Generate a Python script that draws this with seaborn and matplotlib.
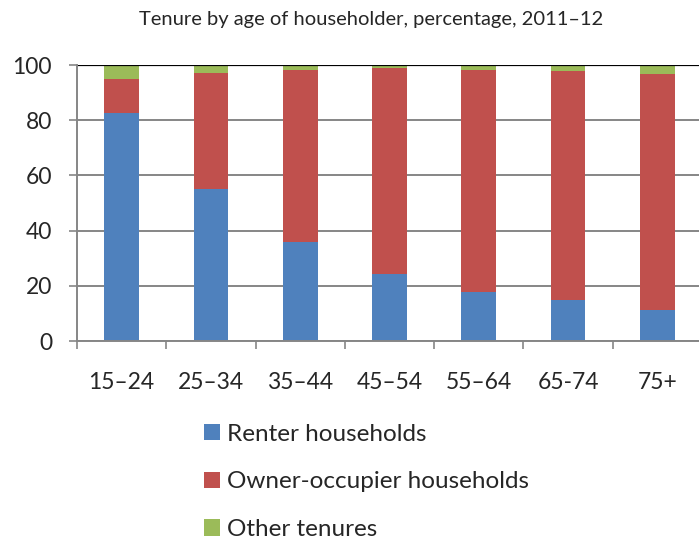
import pandas as pd
import matplotlib.pyplot as plt
import seaborn as sns
from matplotlib.patches import Patch

# Data
age_groups = ['15–24', '25–34', '35–44', '45–54', '55–64', '65-74', '75+']
renter = [82.5, 54.9, 35.8, 24.1, 17.7, 14.9, 11.4]
owner = [12.4, 42.3, 62.4, 74.9, 80.5, 83.0, 85.5]
other = [5.1, 2.8, 1.8, 1.0, 1.8, 2.1, 3.1]

series_names = ['Renter households', 'Owner-occupier households', 'Other tenures']
colors = ['#4F81BD', '#C0504D', '#9BBB59']

sns.set_style('white')
plt.rcParams['font.family'] = ['Lato', 'DejaVu Sans']

df = pd.DataFrame({'age': age_groups, 'renter': renter, 'owner': owner, 'other': other})
# cumulative heights, drawn back to front so each layer shows as a stacked segment
df['c_owner'] = df['renter'] + df['owner']
df['c_other'] = df['c_owner'] + df['other']

fig = plt.figure(figsize=(6.99, 5.40), dpi=100)
ax = fig.add_axes([77 / 699, 1 - 341 / 540, 625 / 699, 276 / 540])

for col, color in zip(['c_other', 'c_owner', 'renter'], [colors[2], colors[1], colors[0]]):
    sns.barplot(data=df, x='age', y=col, color=color, width=0.39, ax=ax,
                saturation=1, edgecolor='none', zorder=3)

ax.set_xlim(-0.5, len(age_groups) - 0.5)
ax.set_ylim(0, 100)
ax.set_yticks([0, 20, 40, 60, 80, 100])
ax.set_xlabel('')
ax.set_ylabel('')

# gridlines like the spreadsheet original
ax.grid(axis='y', color='#868686', linewidth=1.4, zorder=0)
ax.axhline(100, color='black', linewidth=1.6, zorder=4)

for s in ['top', 'right']:
    ax.spines[s].set_visible(False)
for s in ['left', 'bottom']:
    ax.spines[s].set_color('#868686')
    ax.spines[s].set_linewidth(1.4)
    ax.spines[s].set_zorder(5)

ax.tick_params(axis='y', direction='out', length=6, width=1.2, color='#868686',
               labelsize=16.5, pad=12, left=True)
ax.tick_params(axis='x', which='major', length=0, labelsize=16.5, pad=22)
ax.set_xticks([i - 0.5 for i in range(len(age_groups) + 1)], minor=True)
ax.tick_params(axis='x', which='minor', direction='out', length=6, width=1.2,
               color='#868686', bottom=True)

fig.text(371 / 699, 1 - 20 / 540, 'Tenure by age of householder, percentage, 2011–12',
         ha='center', va='center', fontsize=14.5)

handles = [Patch(facecolor=c, edgecolor='none') for c in colors]
fig.legend(handles, series_names, loc='upper left', bbox_to_anchor=(194 / 699, 1 - 414 / 540),
           frameon=False, fontsize=17.5, handlelength=0.66, handleheight=0.66,
           handletextpad=0.3, labelspacing=1.1, borderaxespad=0)

fig.savefig('out.png', dpi=100)
